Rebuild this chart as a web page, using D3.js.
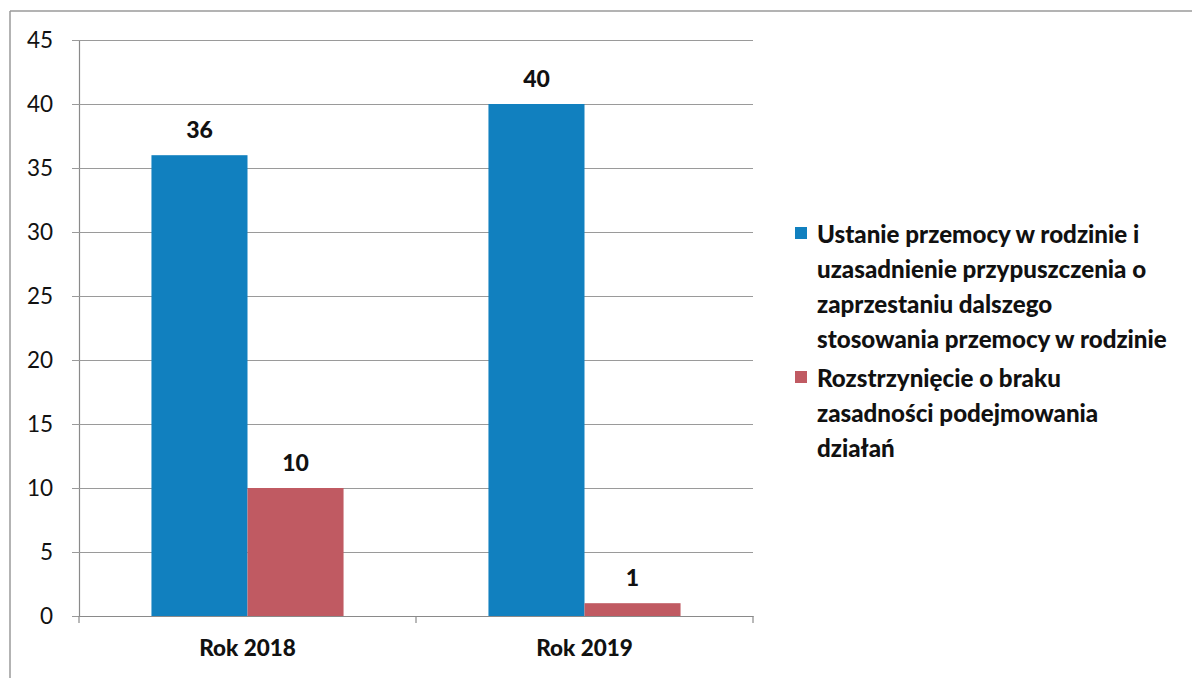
<!DOCTYPE html>
<html><head><meta charset="utf-8">
<script src="https://cdn.jsdelivr.net/npm/d3@7/dist/d3.min.js"></script>
<style>html,body{margin:0;padding:0;background:#fff}svg{display:block}</style>
</head><body>
<svg id="c" width="1192" height="678"></svg>
<script>
const categories = ["Rok 2018", "Rok 2019"];
const seriesNames = [
  "Ustanie przemocy w rodzinie i uzasadnienie przypuszczenia o zaprzestaniu dalszego stosowania przemocy w rodzinie",
  "Rozstrzynięcie o braku zasadności podejmowania działań"
];
const seriesA = [36, 40];
const seriesB = [10, 1];
const legendLinesA = ["Ustanie przemocy w rodzinie i", "uzasadnienie przypuszczenia o", "zaprzestaniu dalszego", "stosowania przemocy w rodzinie"];
const legendLinesB = ["Rozstrzynięcie o braku", "zasadności podejmowania", "działań"];
const yTicks = [0, 5, 10, 15, 20, 25, 30, 35, 40, 45];

const colors = ["#1180BF", "#C05A62"];
const font = "Lato, 'Open Sans', sans-serif";
const svg = d3.select("#c");

// frame
svg.append("line").attr("x1",10).attr("x2",10).attr("y1",11).attr("y2",678).attr("stroke","#9a9a9a").attr("stroke-width",1.5);
svg.append("line").attr("x1",10).attr("x2",1192).attr("y1",11).attr("y2",11).attr("stroke","#9a9a9a").attr("stroke-width",1.5);

const L = 79, R = 753, T = 40, B = 616;
const y = d3.scaleLinear().domain([0,45]).range([B,T]);
const x0 = d3.scaleBand().domain(categories).range([L,R]).paddingInner(0.43).paddingOuter(0.215);
const x1 = d3.scaleBand().domain([0,1]).range([0,x0.bandwidth()]).padding(0);

// gridlines + y axis
const yAxis = d3.axisLeft(y).tickValues(yTicks).tickSize(-(R-L)).tickSizeOuter(0).tickPadding(26);
const gy = svg.append("g").attr("transform",`translate(${L},0)`).call(yAxis);
gy.select(".domain").attr("stroke","#8a8a8a").attr("stroke-width",1.2);
gy.selectAll(".tick line").attr("stroke","#9a9a9a").attr("stroke-width",1.2).attr("x1",-7);
gy.selectAll(".tick text").attr("font-family",font).attr("font-size",22.5).attr("fill","#111");

// x axis
const xAxis = d3.axisBottom(x0).tickSize(0).tickSizeOuter(0).tickPadding(24);
const gx = svg.append("g").attr("transform",`translate(0,${B})`).call(xAxis);
gx.select(".domain").attr("stroke","#8a8a8a").attr("stroke-width",1.2);
gx.selectAll(".tick text").attr("font-family",font).attr("font-size",22.5).attr("font-weight","900").attr("fill","#111");
// category boundary ticks
const bounds = [L, (x0(categories[0])+x0.bandwidth()+x0(categories[1]))/2, R];
gx.selectAll(".bt").data(bounds).enter().append("line")
  .attr("x1",d=>d).attr("x2",d=>d).attr("y1",0).attr("y2",7).attr("stroke","#8a8a8a").attr("stroke-width",1.2);

// bars
const data = categories.map((c,i)=>({c, vals:[seriesA[i], seriesB[i]]}));
const groups = svg.selectAll(".grp").data(data).enter().append("g").attr("transform",d=>`translate(${x0(d.c)},0)`);
groups.selectAll("rect").data(d=>d.vals.map((v,k)=>({v,k}))).enter().append("rect")
  .attr("x",d=>x1(d.k)).attr("width",x1.bandwidth())
  .attr("y",d=>y(d.v)).attr("height",d=>y(0)-y(d.v))
  .attr("fill",d=>colors[d.k]);
groups.selectAll("text").data(d=>d.vals.map((v,k)=>({v,k}))).enter().append("text")
  .attr("x",d=>x1(d.k)+x1.bandwidth()/2).attr("y",d=>y(d.v)-26)
  .attr("text-anchor","middle").attr("dominant-baseline","central")
  .attr("font-family",font).attr("font-size",23).attr("font-weight","900").attr("fill","#111")
  .text(d=>d.v);

// legend
const legend = svg.append("g");
const entries = [{lines:legendLinesA, c:colors[0], y0:233},{lines:legendLinesB, c:colors[1], y0:377}];
let fs = 22;
// fit longest line to width 348
const probe = svg.append("text").attr("font-family",font).attr("font-weight","900").attr("font-size",fs).text(legendLinesA[3]);
const w = probe.node().getComputedTextLength();
probe.remove();
fs = fs * 350 / w;
entries.forEach(e=>{
  legend.append("rect").attr("x",795).attr("y",e.y0-6).attr("width",12).attr("height",12).attr("fill",e.c);
  e.lines.forEach((ln,j)=>{
    legend.append("text").attr("x",817).attr("y",e.y0+j*35).attr("dominant-baseline","central")
      .attr("font-family",font).attr("font-weight","900").attr("font-size",fs).attr("fill","#111").text(ln);
  });
});
</script>
</body></html>
